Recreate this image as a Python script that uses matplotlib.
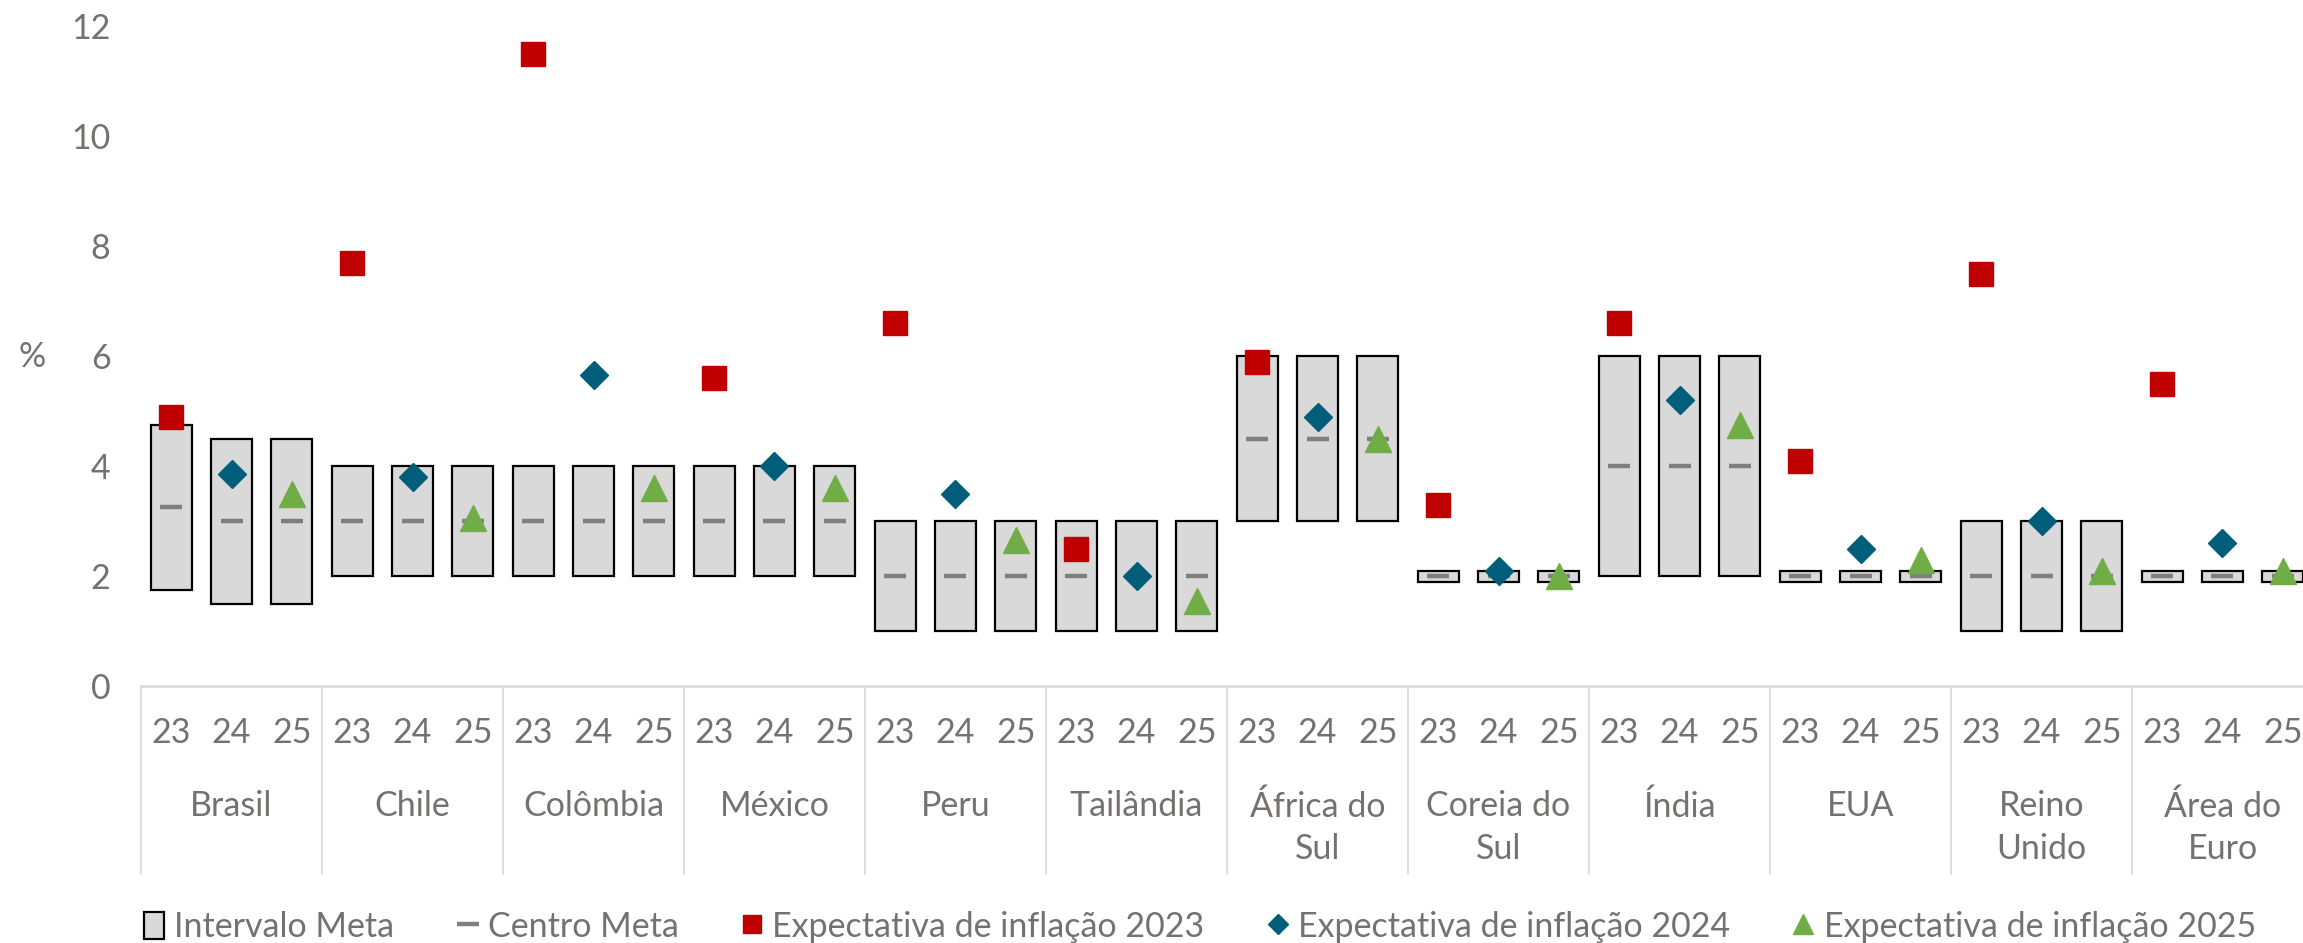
import numpy as np
import matplotlib
matplotlib.use("Agg")
import matplotlib.pyplot as plt
from matplotlib.lines import Line2D
from matplotlib.patches import Patch

plt.rcParams['font.family'] = ['Lato', 'DejaVu Sans']

# data
countries = ["Brasil", "Chile", "Colômbia", "México", "Peru", "Tailândia",
             "África do\nSul", "Coreia do\nSul", "Índia", "EUA", "Reino\nUnido", "Área do\nEuro"]
years = ["23", "24", "25"]

# meta interval per country/year (low, high, centre)
meta_low = [1.75, 1.5, 1.5,  2, 2, 2,  2, 2, 2,  2, 2, 2,  1, 1, 1,  1, 1, 1,
            3, 3, 3,  1.9, 1.9, 1.9,  2, 2, 2,  1.9, 1.9, 1.9,  1, 1, 1,  1.9, 1.9, 1.9]
meta_high = [4.75, 4.5, 4.5,  4, 4, 4,  4, 4, 4,  4, 4, 4,  3, 3, 3,  3, 3, 3,
             6, 6, 6,  2.1, 2.1, 2.1,  6, 6, 6,  2.1, 2.1, 2.1,  3, 3, 3,  2.1, 2.1, 2.1]
meta_center = [3.25, 3, 3,  3, 3, 3,  3, 3, 3,  3, 3, 3,  2, 2, 2,  2, 2, 2,
               4.5, 4.5, 4.5,  2, 2, 2,  4, 4, 4,  2, 2, 2,  2, 2, 2,  2, 2, 2]

exp_2023 = [4.9, 7.7, 11.5, 5.6, 6.6, 2.5, 5.9, 3.3, 6.6, 4.1, 7.5, 5.5]
exp_2024 = [3.85, 3.8, 5.65, 4.0, 3.5, 2.0, 4.9, 2.1, 5.2, 2.5, 3.0, 2.6]
exp_2025 = [3.5, 3.05, 3.6, 3.6, 2.65, 1.55, 4.5, 2.0, 4.75, 2.3, 2.1, 2.1]

txt = '#767171'
fs = 24.5
W, H = 2303, 943
fig = plt.figure(figsize=(W / 100, H / 100), dpi=100)
ax = fig.add_axes([141 / W, 1 - 686 / H, 2172 / W, 660 / H])

n = len(countries)
x = np.arange(n * 3)
grp = np.arange(n) * 3

low = np.array(meta_low)
high = np.array(meta_high)
ax.bar(x, high - low, bottom=low, width=0.68, color='#D9D9D9',
       edgecolor='black', linewidth=1.6, zorder=2)
ax.plot(x, meta_center, ls='none', marker='_', ms=16, mew=3.2,
        color='#7F7F7F', zorder=3)
ax.plot(grp, exp_2023, ls='none', marker='s', ms=17, color='#C00000', zorder=4)
ax.plot(grp + 1, exp_2024, ls='none', marker='D', ms=14, color='#005E7A', zorder=4)
ax.plot(grp + 2, exp_2025, ls='none', marker='^', ms=19, color='#70AD47', zorder=4)

ax.set_xlim(-0.5, n * 3 - 0.5)
ax.set_ylim(0, 12)
ax.set_yticks(range(0, 13, 2))
ax.set_xticks(x)
ax.set_xticklabels(years * n)
ax.tick_params(axis='x', length=0, pad=22, labelsize=fs, labelcolor=txt)
ax.tick_params(axis='y', length=0, pad=22, labelsize=fs, labelcolor=txt)
for s in ['top', 'right', 'left']:
    ax.spines[s].set_visible(False)
ax.spines['bottom'].set_color('#D9D9D9')
ax.spines['bottom'].set_linewidth(1.8)

# category separators and group labels
for k in range(n + 1):
    ax.plot([k * 3 - 0.5] * 2, [0, -0.285], color='#D9D9D9', lw=1.2,
            transform=ax.get_xaxis_transform(), clip_on=False)
for k, c in enumerate(countries):
    ax.annotate(c, xy=(grp[k] + 1, 0), xycoords=('data', 'axes fraction'),
                xytext=(0, -75), textcoords='offset points', ha='center', va='top',
                fontsize=fs, color=txt, linespacing=1.4)

fig.text(32 / W, 1 - 357 / H, '%', fontsize=fs, color=txt, ha='center', va='center')

handles = [
    Patch(facecolor='#D9D9D9', edgecolor='black', linewidth=1.6),
    Line2D([], [], ls='none', marker='_', ms=16, mew=3.2, color='#7F7F7F'),
    Line2D([], [], ls='none', marker='s', ms=13, color='#C00000'),
    Line2D([], [], ls='none', marker='D', ms=10, color='#005E7A'),
    Line2D([], [], ls='none', marker='^', ms=14, color='#70AD47'),
]
labels = ['Intervalo Meta', 'Centro Meta', 'Expectativa de inflação 2023',
          'Expectativa de inflação 2024', 'Expectativa de inflação 2025']
fig.legend(handles, labels, loc='center', bbox_to_anchor=(0.521, 1 - 927 / H),
           ncol=5, frameon=False, fontsize=fs, labelcolor=txt,
           handlelength=0.6, handleheight=0.85, handletextpad=0.3, columnspacing=1.85)

fig.savefig('out.png', dpi=100)
